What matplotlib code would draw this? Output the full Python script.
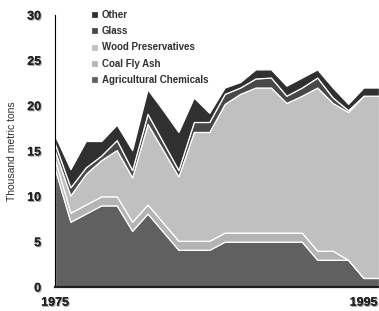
import numpy as np
import matplotlib
matplotlib.use("Agg")
import matplotlib.pyplot as plt
import matplotlib.patheffects as pe

plt.rcParams['font.family'] = ['Liberation Sans', 'DejaVu Sans']

years = list(range(1975, 1997))

agricultural = [13, 7.2, 8.1, 9, 9, 6.2, 8.1, 6.1, 4.1, 4.1, 4.1,
                5, 5, 5, 5, 5, 5, 3, 3, 3, 1, 1]
coal_fly_ash = [1, 1, 1, 1, 1, 1, 1, 1, 1, 1, 1,
                1, 1, 1, 1, 1, 1, 1, 1, 0, 0, 0]
wood = [1.0, 1.9, 3.4, 4.0, 5.1, 4.9, 8.9, 8.0, 7.1, 12.0, 12.0,
        14.2, 15.3, 16.0, 16.0, 14.3, 15.1, 18.0, 16.3, 16.3, 20.1, 20.1]
glass = [0.8, 0.9, 0.7, 0.5, 1.1, 0.8, 1.1, 0.9, 0.7, 1.1, 1.1,
         1.1, 0.7, 1.0, 1.1, 0.8, 0.9, 1.1, 0.6, 0.2, 0, 0]
other = [0.9, 2.0, 2.9, 1.6, 1.7, 2.2, 2.7, 3.5, 4.2, 2.7, 1.0,
         0.7, 0.6, 1.0, 0.9, 1.1, 1.1, 0.9, 1.1, 0.7, 0.9, 0.9]

labels = ["Agricultural Chemicals", "Coal Fly Ash", "Wood Preservatives", "Glass", "Other"]
colors = ["#606060", "#b4b4b4", "#c0c0c0", "#484848", "#303030"]

fig = plt.figure(figsize=(3.79, 3.11), dpi=100)
ax = fig.add_axes([55/379, 24/311, 324/379, 272/311])

polys = ax.stackplot(years, agricultural, coal_fly_ash, wood, glass, other,
                     labels=labels, colors=colors, edgecolor="white", linewidth=0.9)

ax.set_xlim(1975, 1996)
ax.set_ylim(0, 30)
ax.set_xticks([1975, 1995])
ax.set_yticks(range(0, 31, 5))
ax.tick_params(length=0)
ax.tick_params(axis='y', pad=10)
ax.tick_params(axis='x', pad=7)

shadow = [pe.withSimplePatchShadow(offset=(0.8, -0.8), shadow_rgbFace="#a0a0a0", alpha=1), pe.Normal()]
for lab in ax.get_xticklabels() + ax.get_yticklabels():
    lab.set_fontweight("bold")
    lab.set_fontsize(9)
    lab.set_color("#202020")
    lab.set_path_effects(shadow)

for s in ["top", "right"]:
    ax.spines[s].set_visible(False)
ax.spines["left"].set_linewidth(0.8)
ax.spines["bottom"].set_linewidth(1.6)
ax.spines["bottom"].set_color("#202020")

ax.set_ylabel("Thousand metric tons", fontsize=7.5, color="#303030", labelpad=7)

h, l = ax.get_legend_handles_labels()
leg = ax.legend(h[::-1], l[::-1], loc="upper left", bbox_to_anchor=(86/379, 1 - 5/311),
                bbox_transform=fig.transFigure, frameon=False, fontsize=7,
                handlelength=0.7, handleheight=0.7, handletextpad=0.4,
                labelspacing=0.65, borderpad=0)
for t in leg.get_texts():
    t.set_fontweight("bold")
    t.set_color("#303030")

fig.savefig("out.png", dpi=100)
